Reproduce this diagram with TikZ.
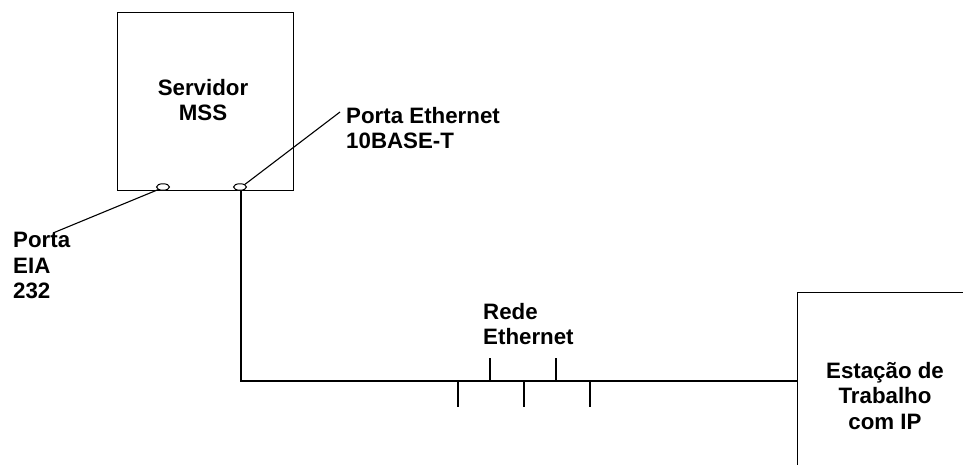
\documentclass[tikz,border=0pt]{standalone}
\usepackage{fontspec}
\setmainfont{Liberation Sans}
\usetikzlibrary{shapes.geometric}
\begin{document}
\begin{tikzpicture}[x=1pt,y=-1pt,
  wire/.style={line width=1.1pt},
  box/.style={draw,line width=1.1pt,rectangle,inner sep=0pt},
  port/.style={draw,ellipse,line width=1pt,fill=white,inner sep=0pt,minimum width=13pt,minimum height=6.5pt},
  lbl/.style={inner sep=0pt,font=\bfseries\fontsize{22.3}{25.5}\selectfont},
]
\useasboundingbox (0,0) rectangle (963,464);
\clip (0,0) rectangle (963,464);
% server
\node[box,minimum width=176pt,minimum height=178pt,anchor=north west] (srv) at (117,12) {};
\node[lbl,align=center,anchor=north] (srvtxt) at (203,79) {Servidor\\MSS};
% workstation (extends beyond the picture)
\node[box,minimum width=220pt,minimum height=220pt,anchor=north west] (ws) at (797,292) {};
\node[lbl,align=center,anchor=north] (wstxt) at (885,362) {Estação de\\Trabalho\\com IP};
% ports
\node[port] (pe) at (240,187) {};
\node[port] (pa) at (163,187) {};
% labels
\node[lbl,align=left,anchor=north west] (ethlbl) at (346,107) {Porta Ethernet\\10BASE-T};
\node[lbl,align=left,anchor=north west] (eialbl) at (13,232) {Porta\\EIA\\232};
\node[lbl,align=left,anchor=north west] (redelbl) at (483,303) {Rede\\Ethernet};
% leader lines
\coordinate (ethend) at (340,112);
\coordinate (eiaend) at (53,233);
\draw[wire] (pe.north east) -- (ethend);
\draw[wire] (pa.south west) -- (eiaend);
% network
\coordinate (bend) at (241,381);
\draw[wire] (pe.south) ++(1,0) coordinate (pedrop) (pedrop) -- (bend) -- (ws.west |- bend);
\foreach \x/\n in {490/u1,556/u2}{
  \draw[wire] (\x,381) coordinate (\n a) -- (\x,358) coordinate (\n b);
}
\foreach \x/\n in {458/d1,524/d2,590/d3}{
  \draw[wire] (\x,381) coordinate (\n a) -- (\x,407) coordinate (\n b);
}
\end{tikzpicture}
\end{document}
